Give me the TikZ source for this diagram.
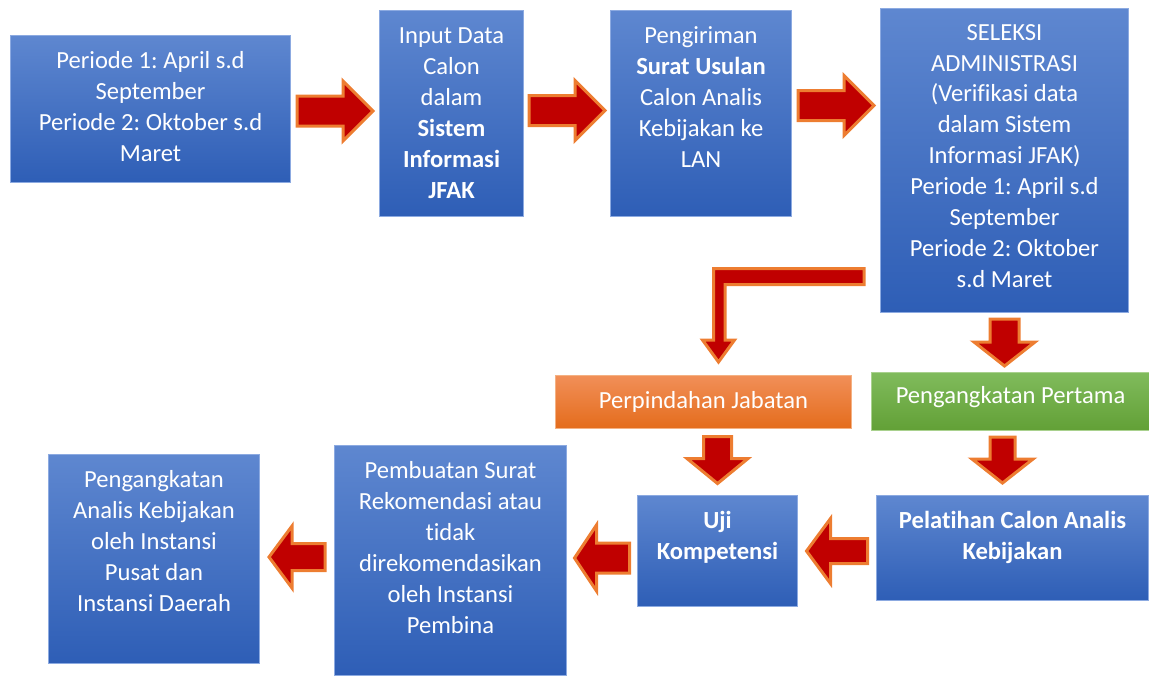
\documentclass[tikz,border=0pt]{standalone}
\usepackage{fontspec}
\setmainfont{Carlito}[Ligatures=NoCommon]
\frenchspacing
\usetikzlibrary{calc}
\definecolor{biruAtas}{RGB}{94,135,208}
\definecolor{biruBawah}{RGB}{46,94,182}
\definecolor{biruTepi}{RGB}{140,170,225}
\definecolor{oranyeAtas}{RGB}{241,143,88}
\definecolor{oranyeBawah}{RGB}{228,108,28}
\definecolor{oranyeTepi}{RGB}{244,177,131}
\definecolor{hijauAtas}{RGB}{128,187,92}
\definecolor{hijauBawah}{RGB}{98,160,54}
\definecolor{hijauTepi}{RGB}{169,209,142}
\definecolor{merah}{RGB}{192,0,0}
\definecolor{garisPanah}{RGB}{237,125,49}
\tikzset{
  kotak/.style={draw=biruTepi, line width=0.6pt, top color=biruAtas, bottom color=biruBawah,
    text=white, align=center, inner xsep=0pt, inner ysep=0pt, text height=0.66cm,
    anchor=north west, font=\fontsize{14}{17.6}\selectfont},
  kotakoranye/.style={kotak, draw=oranyeTepi, top color=oranyeAtas, bottom color=oranyeBawah},
  kotakhijau/.style={kotak, draw=hijauTepi, top color=hijauAtas, bottom color=hijauBawah},
  panahgaya/.style={fill=merah, draw=garisPanah, line width=0.06cm, line join=miter}
}
\newcommand{\panah}[6]{%
  \filldraw[panahgaya, shift={#1}, rotate=#2] (-#3/2,-#4) -- (#3/2-#6,-#4) -- (#3/2-#6,-#5)
    -- (#3/2,0) -- (#3/2-#6,#5) -- (#3/2-#6,#4) -- (-#3/2,#4) -- cycle;}
\begin{document}
\begin{tikzpicture}[x=0.02cm,y=-0.02cm]
\useasboundingbox (0,0) rectangle (1149,677);
\node[kotak, minimum width=5.6cm, text height=2.52cm, text depth=0.42cm] (periode) at (10,35)
  {Periode 1: April s.d\\September\\Periode 2: Oktober s.d\\Maret};
\node[kotak, minimum width=2.88cm, text height=3.76cm, text depth=0.36cm] (input) at (379,10)
  {Input Data\\Calon\\dalam\\\textbf{Sistem}\\\textbf{Informasi}\\\textbf{JFAK}};
\node[kotak, minimum width=3.62cm, text height=3.14cm, text depth=0.98cm] (kirim) at (610,10)
  {Pengiriman\\\textbf{Surat Usulan}\\Calon Analis\\Kebijakan ke\\LAN};
\node[kotak, minimum width=4.96cm, text height=5.58cm, text depth=0.5cm] (seleksi) at (880,8)
  {SELEKSI\\ADMINISTRASI\\(Verifikasi data\\dalam Sistem\\Informasi JFAK)\\Periode 1: April s.d\\September\\Periode 2: Oktober\\s.d Maret};
\node[kotakoranye, minimum width=5.92cm, text depth=0.4cm] (pindah) at (555,375) {Perpindahan Jabatan};
\node[kotakhijau, minimum width=5.56cm, text height=0.62cm, text depth=0.54cm] (angkat) at (871,372) {Pengangkatan Pertama};
\node[kotak, minimum width=5.44cm, text height=1.28cm, text depth=0.82cm] (latih) at (876,495)
  {\textbf{Pelatihan Calon Analis}\\\textbf{Kebijakan}};
\node[kotak, minimum width=3.2cm, text height=1.28cm, text depth=0.94cm] (uji) at (637,495)
  {\textbf{Uji}\\\textbf{Kompetensi}};
\node[kotak, minimum width=4.64cm, text height=3.76cm, text depth=0.84cm] (rekom) at (334,445)
  {Pembuatan Surat\\Rekomendasi atau\\tidak\\direkomendasikan\\oleh Instansi\\Pembina};
\node[kotak, minimum width=4.22cm, text height=3.14cm, text depth=1.04cm] (analis) at (48,454)
  {Pengangkatan\\Analis Kebijakan\\oleh Instansi\\Pusat dan\\Instansi Daerah};
\panah{($(periode.east)!.5!(periode.east -| input.west)+(0,2)$)}{0}{76}{15}{30}{30}
\panah{($(input.east)!.5!(input.east -| kirim.west)+(0,-3)$)}{0}{76}{15}{30}{30}
\panah{($(kirim.east)!.5!(kirim.east -| seleksi.west)+(0,-8)$)}{0}{76}{15}{30}{30}
\panah{($(seleksi.south)!.5!(seleksi.south |- angkat.north)$)}{-90}{47}{14.5}{30.5}{24}
\panah{($(angkat.south)!.5!(angkat.south |- latih.north)+(-8,-3)$)}{-90}{46}{12.5}{30.5}{24}
\panah{($(pindah.south -| uji.north)!.5!(uji.north)+(0,-2)$)}{-90}{47}{14}{30.5}{25}
\panah{($(latih.west)!.5!(latih.west -| uji.east)+(0,3)$)}{180}{61}{12.5}{32.5}{24}
\panah{($(uji.west)!.5!(uji.west -| rekom.east)+(0,7)$)}{180}{55}{15}{33}{22}
\panah{($(analis.east)!.5!(analis.east -| rekom.west)+(0,-2)$)}{180}{56}{13.5}{31}{23}
\filldraw[panahgaya] (864,268.5) -- (713.5,268.5) -- (713.5,340) -- (702.5,340) -- (718.5,362)
  -- (734.5,340) -- (725,340) -- (725,284.5) -- (864,284.5) -- cycle;
\end{tikzpicture}
\end{document}
